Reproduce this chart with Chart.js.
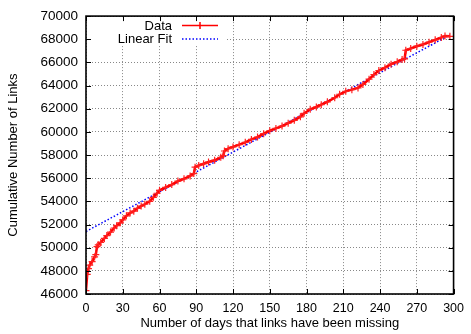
<!DOCTYPE html>
<html>
<head>
<meta charset="utf-8">
<script src="https://cdn.jsdelivr.net/npm/chart.js@4.4.1/dist/chart.umd.min.js"></script>
<style>
  html, body { margin: 0; padding: 0; background: #fff; }
  #wrap { width: 471px; height: 334px; }
</style>
</head>
<body>
<div id="wrap"><canvas id="linksChart" width="471" height="334"></canvas></div>
<script>
// values
const days = [0, 1, 2, 3, 5, 7, 8, 9, 10, 12, 15, 17, 20, 23, 25, 28, 30, 33, 36, 39, 42, 45, 48, 52, 55, 58,
  60, 65, 70, 75, 80, 85, 88, 89, 92, 96, 100, 105, 110, 112, 113, 116, 120, 125, 130, 135, 140, 145,
  150, 155, 160, 165, 170, 175, 178, 183, 188, 192, 197, 203, 207, 212, 217, 222, 226, 231, 235, 239,
  244, 249, 254, 258, 260, 261, 265, 270, 275, 280, 285, 290, 293, 297];
const links = [46300, 47700, 48200, 48500, 48800, 49200, 49400, 50100, 50250, 50450, 50800, 51050, 51350,
  51700, 51900, 52150, 52400, 52750, 53000, 53150, 53400, 53600, 53750, 54000, 54350, 54700,
  54950, 55200, 55450, 55750, 55950, 56200, 56400, 56950, 57100, 57250, 57400, 57550, 57800, 57950,
  58350, 58550, 58700, 58900, 59100, 59350, 59550, 59850, 60100, 60300, 60500, 60750, 61000, 61300,
  61600, 61950, 62150, 62350, 62600, 62950, 63250, 63500, 63650, 63800, 64100, 64550, 64950, 65300,
  65550, 65850, 66050, 66250, 66300, 67050, 67200, 67400, 67550, 67750, 67950, 68150, 68280, 68250];

const fitDays = [0, 297];
const fitLinks = [51400, 68370];

const xTickVals = [0, 30, 60, 90, 120, 150, 180, 210, 240, 270, 300];
const yTickVals = [46000, 48000, 50000, 52000, 54000, 56000, 58000, 60000, 62000, 64000, 66000, 68000, 70000];

const FONT = "'Liberation Sans', Arial, Helvetica, sans-serif";

const toXY = (xs, ys) => xs.map((x, i) => ({ x: x, y: ys[i] }));

// gnuplot style: box frame, inward ticks on all four sides, key in the top left
const gnuplotFrame = {
  id: "gnuplotFrame",
  beforeDatasetsDraw(chart) {
    const ctx = chart.ctx;
    ctx.save();
    ctx.fillStyle = "#fff";
    ctx.fillRect(92, 19, 134, 27);

    ctx.font = "13px " + FONT;
    ctx.fillStyle = "#000";
    ctx.textAlign = "right";
    ctx.textBaseline = "middle";
    ctx.fillText("Data", 172, 26);
    ctx.fillText("Linear Fit", 172, 39);

    ctx.strokeStyle = "#ff0000";
    ctx.lineWidth = 1.5;
    ctx.beginPath();
    ctx.moveTo(182, 25.5); ctx.lineTo(218, 25.5);
    ctx.moveTo(200, 22); ctx.lineTo(200, 29);
    ctx.moveTo(196.5, 25.5); ctx.lineTo(203.5, 25.5);
    ctx.stroke();

    ctx.strokeStyle = "#0000ff";
    ctx.setLineDash([1.5, 2]);
    ctx.beginPath();
    ctx.moveTo(182, 39); ctx.lineTo(218, 39);
    ctx.stroke();
    ctx.restore();
  },
  afterDraw(chart) {
    const { ctx, chartArea: a, scales } = chart;
    ctx.save();
    ctx.strokeStyle = "#000";
    ctx.lineWidth = 1;
    ctx.beginPath();
    scales.x.ticks.forEach(t => {
      const px = Math.round(scales.x.getPixelForValue(t.value)) + 0.5;
      ctx.moveTo(px, a.bottom); ctx.lineTo(px, a.bottom - 5);
      ctx.moveTo(px, a.top); ctx.lineTo(px, a.top + 5);
    });
    scales.y.ticks.forEach(t => {
      const py = Math.round(scales.y.getPixelForValue(t.value)) + 0.5;
      ctx.moveTo(a.left, py); ctx.lineTo(a.left + 5, py);
      ctx.moveTo(a.right, py); ctx.lineTo(a.right - 5, py);
    });
    ctx.stroke();
    ctx.lineWidth = 1.6;
    ctx.strokeRect(a.left, a.top, a.right - a.left, a.bottom - a.top);
    ctx.restore();
  }
};

new Chart(document.getElementById("linksChart"), {
  type: "line",
  data: {
    datasets: [
      // measured data
      {
        label: "Data",
        data: toXY(days, links),
        borderColor: "#ff0000",
        backgroundColor: "#ff0000",
        borderWidth: 2.5,
        tension: 0,
        pointStyle: "cross",
        pointRadius: 3.5,
        pointBorderWidth: 1.2,
        pointBorderColor: "#ff2020"
      },
      // least squares line
      {
        label: "Linear Fit",
        data: toXY(fitDays, fitLinks),
        borderColor: "#0000ff",
        borderWidth: 1.5,
        borderDash: [1.5, 2],
        pointRadius: 0,
        tension: 0
      }
    ]
  },
  options: {
    responsive: false,
    animation: false,
    layout: { padding: { top: 15, right: 12, left: 0, bottom: 0 } },
    plugins: {
      legend: { display: false },
      tooltip: { enabled: false }
    },
    scales: {
      x: {
        type: "linear",
        min: 0,
        max: 300,
        afterBuildTicks: (scale) => { scale.ticks = xTickVals.map(v => ({ value: v })); },
        afterFit: (scale) => { scale.height = 40; },
        grid: { color: "#888", lineWidth: 1, drawTicks: false },
        border: { display: false, dash: [1, 2] },
        ticks: { color: "#000", padding: 7, maxRotation: 0, font: { family: FONT, size: 12.5 },
          callback: (val) => String(val) },
        title: {
          display: true,
          text: "Number of days that links have been missing",
          color: "#000",
          font: { family: FONT, size: 13 },
          padding: { top: 0, bottom: 3 }
        }
      },
      y: {
        min: 46000,
        max: 70000,
        afterBuildTicks: (scale) => { scale.ticks = yTickVals.map(v => ({ value: v })); },
        afterFit: (scale) => { scale.width = 86; },
        grid: { color: "#888", lineWidth: 1, drawTicks: false },
        border: { display: false, dash: [1, 2] },
        ticks: { color: "#000", padding: 8, font: { family: FONT, size: 13.5 },
          callback: (val) => String(val) },
        title: {
          display: true,
          text: "Cumulative Number of Links",
          color: "#000",
          font: { family: FONT, size: 13 },
          padding: { top: 6, bottom: 0 }
        }
      }
    }
  },
  plugins: [gnuplotFrame]
});
</script>
</body>
</html>
